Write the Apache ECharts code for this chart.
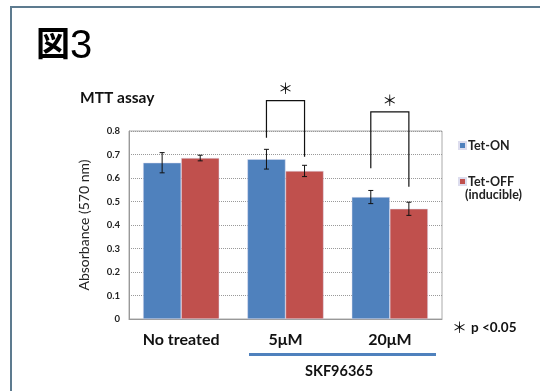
<!DOCTYPE html>
<html>
<head>
<meta charset="utf-8">
<script src="https://cdn.jsdelivr.net/npm/echarts@6/dist/echarts.min.js"></script>
<style>
html, body { margin: 0; padding: 0; background: #fff; }
#main { width: 540px; height: 391px; }
</style>
</head>
<body>
<div id="main"></div>
<script>
var categories = ['No treated', '5μM', '20μM'];
var tetOn = [0.665, 0.68, 0.519];
var tetOnErr = [0.043, 0.042, 0.028];
var tetOff = [0.685, 0.63, 0.469];
var tetOffErr = [0.012, 0.024, 0.028];
// significance brackets: category, left leg bottom, right leg bottom, top
var brackets = [
	[1, 0.771, 0.69, 0.929],
	[2, 0.641, 0.563, 0.881]
];
var yTicks = { min: 0, max: 0.8, interval: 0.1 };

var CAT_GAP = 0.27;
var FONT = 'Lato, "Open Sans", sans-serif';

var chart = echarts.init(document.getElementById('main'));

function barWidth(api) {
	return api.size([1, 0])[0] * (1 - CAT_GAP) / 2;
}

function errorItem(side) {
	return function (params, api) {
		var cat = api.value(0), val = api.value(1), err = api.value(2);
		var w = barWidth(api);
		var c = api.coord([cat, val]);
		var x = c[0] + side * w / 2;
		var hi = api.coord([cat, val + err])[1];
		var lo = api.coord([cat, val - err])[1];
		var st = { stroke: '#111', lineWidth: 1 };
		return {
			type: 'group',
			children: [
				{ type: 'line', shape: { x1: x, y1: hi, x2: x, y2: lo }, style: st },
				{ type: 'line', shape: { x1: x - 2.5, y1: hi, x2: x + 2.5, y2: hi }, style: st },
				{ type: 'line', shape: { x1: x - 2.5, y1: lo, x2: x + 2.5, y2: lo }, style: st }
			]
		};
	};
}

var errOnData = tetOn.map(function (v, i) { return [i, v, tetOnErr[i]]; });
var errOffData = tetOff.map(function (v, i) { return [i, v, tetOffErr[i]]; });

var option = {
	backgroundColor: '#fff',
	textStyle: { fontFamily: FONT },
	grid: {
		left: 129, right: 98, top: 131, bottom: 72,
		show: true, borderColor: '#aaa', borderWidth: 1, backgroundColor: 'transparent'
	},
	legend: {
		orient: 'vertical',
		left: 453, top: 134,
		itemWidth: 7, itemHeight: 7, itemGap: 23,
		icon: 'rect',
		data: ['Tet-ON', 'Tet-OFF'],
		textStyle: { fontFamily: FONT, fontWeight: 'bold', fontSize: 12.5, color: '#222', padding: [0, 0, 0, -3] }
	},
	xAxis: {
		type: 'category',
		data: categories,
		axisLine: { lineStyle: { color: '#999' } },
		axisTick: { show: false },
		axisLabel: { margin: 13, fontSize: 16, fontWeight: 'bold', color: '#111', fontFamily: FONT }
	},
	yAxis: {
		type: 'value',
		min: yTicks.min, max: yTicks.max, interval: yTicks.interval,
		name: 'Absorbance (570 nm)',
		nameLocation: 'middle',
		nameGap: 38,
		nameTextStyle: { fontSize: 14, color: '#222', fontFamily: FONT },
		axisLine: { show: true, lineStyle: { color: '#999' } },
		axisTick: { show: false },
		axisLabel: {
			margin: 9, fontSize: 9.5, fontWeight: 'bold', color: '#222',
			formatter: function (v) { return v === 0 ? '0' : v.toFixed(1); }
		},
		splitLine: { lineStyle: { color: '#999', type: [1, 1] } }
	},
	series: [
		{
			name: 'Tet-ON', type: 'bar', data: tetOn,
			barGap: '0%', barCategoryGap: '27%',
			itemStyle: { color: '#4f81bd', borderColor: '#dde', borderWidth: 0.5 }
		},
		{
			name: 'Tet-OFF', type: 'bar', data: tetOff,
			itemStyle: { color: '#c0504d', borderColor: '#dde', borderWidth: 0.5 }
		},
		{
			type: 'custom', data: errOnData, renderItem: errorItem(-1), z: 5,
			encode: { x: 0, y: 1 }, silent: true
		},
		{
			type: 'custom', data: errOffData, renderItem: errorItem(1), z: 5,
			encode: { x: 0, y: 1 }, silent: true
		},
		{
			type: 'custom', data: brackets, z: 6, silent: true,
			encode: { x: 0, y: 3 },
			renderItem: function (params, api) {
				var cat = api.value(0);
				var w = barWidth(api);
				var cx = api.coord([cat, 0])[0];
				var xl = cx - w / 2, xr = cx + w / 2;
				var yl = api.coord([cat, api.value(1)])[1];
				var yr = api.coord([cat, api.value(2)])[1];
				var yt = api.coord([cat, api.value(3)])[1];
				return {
					type: 'group',
					children: [
						{ type: 'polyline', shape: { points: [[xl, yl], [xl, yt], [xr, yt], [xr, yr]] },
							style: { stroke: '#111', lineWidth: 1.2, fill: null } },
						{ type: 'text', x: cx, y: yt - 12,
							style: { text: '＊', fontSize: 15, fill: '#111', align: 'center', verticalAlign: 'middle',
								fontFamily: '"Noto Sans CJK JP", sans-serif' } }
					]
				};
			}
		}
	],
	graphic: [
		{ type: 'rect', shape: { x: 11, y: 7, width: 560, height: 420 }, silent: true,
			style: { fill: null, stroke: '#5d7b8f', lineWidth: 2 } },
		{ type: 'text', left: 36, top: 26,
			style: { text: '図', fontSize: 34, fontWeight: 'bold', fontFamily: '"Noto Sans CJK JP", sans-serif', fill: '#000' } },
		{ type: 'text', left: 70, top: 27,
			style: { text: '3', fontSize: 40, fontFamily: '"Liberation Sans", sans-serif', fill: '#000' } },
		{ type: 'text', left: 80, top: 90,
			style: { text: 'MTT assay', fontSize: 15.5, fontWeight: 'bold', fontFamily: FONT, fill: '#111' } },
		{ type: 'text', left: 465, top: 188,
			style: { text: '(inducible)', fontSize: 12.5, fontWeight: 'bold', fontFamily: FONT, fill: '#222' } },
		{ type: 'text', left: 452, top: 320,
			style: { text: '{s|＊}{t|p <0.05}', rich: {
				s: { fontSize: 15, fontFamily: '"Noto Sans CJK JP", sans-serif', fill: '#111' },
				t: { fontSize: 13.5, fontWeight: 'bold', fontFamily: FONT, fill: '#111', padding: [0, 0, 0, 4] }
			} } },
		{ type: 'rect', shape: { x: 249, y: 353, width: 187, height: 3 }, silent: true,
			style: { fill: '#4f81bd' } },
		{ type: 'text', left: 305, top: 364,
			style: { text: 'SKF96365', fontSize: 14.5, fontWeight: 'bold', fontFamily: FONT, fill: '#111' } }
	]
};

chart.setOption(option);
</script>
</body>
</html>
